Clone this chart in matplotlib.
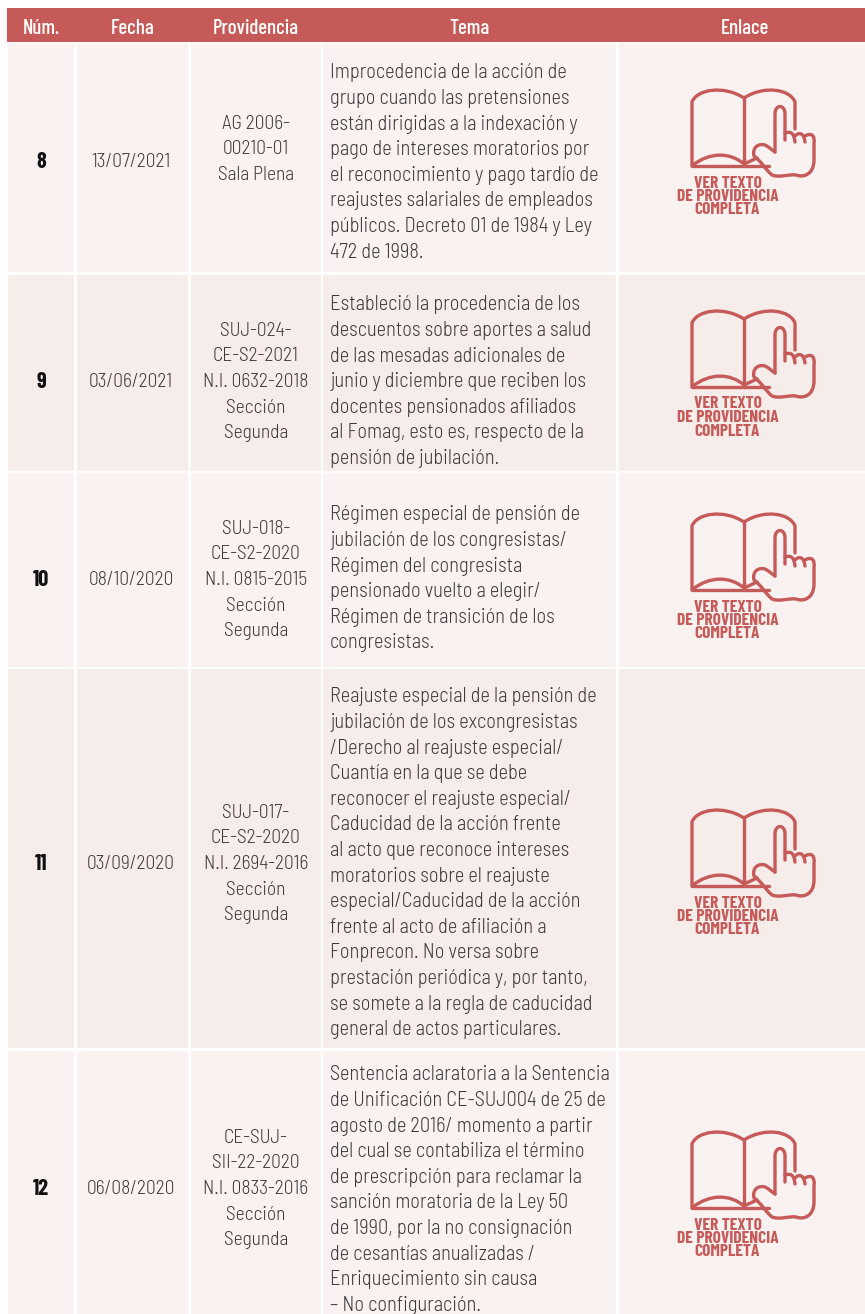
import matplotlib
matplotlib.use("Agg")
import matplotlib.pyplot as plt
from matplotlib.patches import PathPatch, Rectangle
from matplotlib.path import Path
from matplotlib.transforms import Affine2D

HEAD_FONT = ["Barlow Condensed", "Roboto", "DejaVu Sans"]
FONT = ["Barlow Semi Condensed", "Barlow Condensed", "Roboto", "DejaVu Sans"]
RED = "#c55a58"
TEXT = "#3f3a3a"
ROW_A = "#f9f2f1"
ROW_B = "#f6ecea"

headers = ["Núm.", "Fecha", "Providencia", "Tema", "Enlace"]
header_x = [41, 133, 256, 469, 745]
nums = ["8", "9", "10", "11", "12"]
fechas = ["13/07/2021", "03/06/2021", "08/10/2020", "03/09/2020", "06/08/2020"]
providencias = [
    ["AG 2006-", "00210-01", "Sala Plena"],
    ["SUJ-024-", "CE-S2-2021", "N.I. 0632-2018", "Sección", "Segunda"],
    ["SUJ-018-", "CE-S2-2020", "N.I. 0815-2015", "Sección", "Segunda"],
    ["SUJ-017-", "CE-S2-2020", "N.I. 2694-2016", "Sección", "Segunda"],
    ["CE-SUJ-", "SII-22-2020", "N.I. 0833-2016", "Sección", "Segunda"],
]
temas = [
    ["Improcedencia de la acción de", "grupo cuando las pretensiones",
     "están dirigidas a la indexación y", "pago de intereses moratorios por",
     "el reconocimiento y pago tardío de", "reajustes salariales de empleados",
     "públicos. Decreto 01 de 1984 y Ley", "472 de 1998."],
    ["Estableció la procedencia de los", "descuentos sobre aportes a salud",
     "de las mesadas adicionales de", "junio y diciembre que reciben los",
     "docentes pensionados afiliados", "al Fomag, esto es, respecto de la",
     "pensión de jubilación."],
    ["Régimen especial de pensión de", "jubilación de los congresistas/",
     "Régimen del congresista", "pensionado vuelto a elegir/",
     "Régimen de transición de los", "congresistas."],
    ["Reajuste especial de la pensión de", "jubilación de los excongresistas",
     "/Derecho al reajuste especial/", "Cuantía en la que se debe",
     "reconocer el reajuste especial/", "Caducidad de la acción frente",
     "al acto que reconoce intereses", "moratorios sobre el reajuste",
     "especial/Caducidad de la acción", "frente al acto de afiliación a",
     "Fonprecon. No versa sobre", "prestación periódica y, por tanto,",
     "se somete a la regla de caducidad", "general de actos particulares."],
    ["Sentencia aclaratoria a la Sentencia", "de Unificación CE-SUJ004 de 25 de",
     "agosto de 2016/ momento a partir", "del cual se contabiliza el término",
     "de prescripción para reclamar la", "sanción moratoria de la Ley 50",
     "de 1990, por la no consignación", "de cesantías anualizadas /",
     "Enriquecimiento sin causa", "– No configuración."],
]
enlace_lines = ["VER TEXTO", "DE PROVIDENCIA", "COMPLETA"]

col_left = [8, 77, 191, 323, 619]
col_right = [74, 188, 321, 616, 865]
row_top = [43, 275, 473, 669, 1051]
row_bottom = [272, 471, 667, 1048, 1314]
row_mid = [162, 382, 580, 864, 1189]
prov_mid = [149.5, 382, 580, 864, 1189]
tema_first_y = [73, 305, 515, 697, 1075]
icon_top = [91, 312, 515, 811, 1133]

# book + hand icon, traced in local px from the top left corner of the book
M, L, C = Path.MOVETO, Path.LINETO, Path.CURVE4
icon_parts = [
    ([(52, 7), (32, -6), (5, -2), (0, 11), (0, 75)], [M, C, C, C, L]),
    ([(52, 7), (52, 75)], [M, L]),
    ([(0, 75), (77, 75)], [M, L]),
    ([(1, 74), (18, 61), (38, 61), (52, 73), (65, 67)], [M, C, C, C, L]),
    ([(52, 7), (72, -6), (98, -2), (103, 11), (103, 38)], [M, C, C, C, L]),
    ([(83, 61), (83, 23), (83, 13), (93, 13), (93, 23), (93, 49)],
     [M, L, C, C, C, L]),
    ([(93, 42), (99, 40), (102, 42), (103, 51)], [M, C, C, C]),
    ([(103, 45), (108, 40), (112, 43), (113, 51)], [M, C, C, C]),
    ([(113, 45), (120, 41), (123, 45), (122, 53), (122, 69), (122, 83),
      (112, 87), (104, 84), (96, 83), (88, 87), (80, 84), (72, 77), (70, 71),
      (62, 65), (60, 57), (66, 52), (73, 54), (77, 56), (80, 59), (83, 61)],
     [M, C, C, C, L, C, C, C, C, C, C, C, C, C, C, C, C, C, C, C]),
]

fig = plt.figure(figsize=(8.65, 13.14), dpi=100, facecolor="white")
ax = fig.add_axes([0, 0, 1, 1])
ax.set_xlim(0, 865)
ax.set_ylim(1314, 0)
ax.axis("off")

ax.add_patch(Rectangle((7, 8), 858, 34, facecolor=RED, edgecolor="none"))
for i, h in enumerate(headers):
    ax.text(header_x[i], 28.5, h, family=HEAD_FONT, fontsize=15, fontweight=500, color="white",
            ha="center", va="center")

for r in range(5):
    fill = ROW_B if r % 2 else ROW_A
    for c in range(5):
        ax.add_patch(Rectangle((col_left[c], row_top[r]), col_right[c] - col_left[c],
                               row_bottom[r] - row_top[r], facecolor=fill, edgecolor="none"))
    mid = row_mid[r]
    ax.text(41, mid, nums[r], family=HEAD_FONT, fontsize=16, fontweight=700, color="#111111",
            ha="center", va="center")
    ax.text(131, mid, fechas[r], family=FONT, fontsize=14, fontweight=300, color=TEXT,
            ha="center", va="center")
    lines = providencias[r]
    for k, line in enumerate(lines):
        y = prov_mid[r] + (k - (len(lines) - 1) / 2) * 25.6
        ax.text(256, y, line, family=FONT, fontsize=14, fontweight=300, color=TEXT,
                ha="center", va="center")
    for k, line in enumerate(temas[r]):
        ax.text(330, tema_first_y[r] + k * 25.6, line, family=FONT, fontsize=14.7, fontweight=300,
                color=TEXT, ha="left", va="center")

    to_px = Affine2D().translate(692, icon_top[r]) + ax.transData
    for verts, codes in icon_parts:
        ax.add_patch(PathPatch(Path(verts, codes), facecolor="none", edgecolor=RED, linewidth=2.4,
                               capstyle="round", joinstyle="round", transform=to_px))
    for k, line in enumerate(enlace_lines):
        ax.text(727.5, icon_top[r] + 92 + k * 13.5, line, family=HEAD_FONT, fontsize=12.5,
                fontweight="bold", color=RED, ha="center", va="center")

fig.savefig("out.png", dpi=100, facecolor="white")
